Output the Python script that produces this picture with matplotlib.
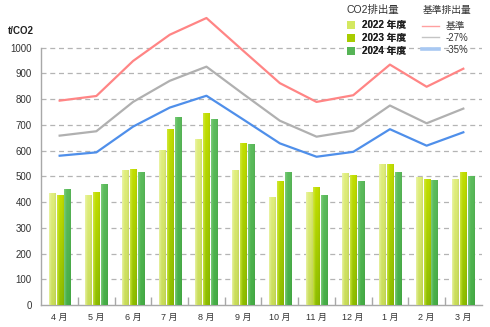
import numpy as np
import matplotlib
matplotlib.use("Agg")
import matplotlib.pyplot as plt
from matplotlib.colors import to_rgb
from matplotlib.lines import Line2D
from matplotlib.patches import Patch

plt.rcParams['font.family'] = ['Liberation Sans', 'Noto Sans CJK JP', 'DejaVu Sans']

months = ['4 月', '5 月', '6 月', '7 月', '8 月', '9 月', '10 月', '11 月', '12 月', '1 月', '2 月', '3 月']

# CO2 emissions (t/CO2) by fiscal year
co2_2022 = [435, 424, 521, 602, 644, 522, 417, 439, 509, 544, 495, 486]
co2_2023 = [426, 438, 525, 680, 745, 626, 478, 457, 505, 544, 487, 513]
co2_2024 = [448, 470, 513, 729, 719, 622, 513, 427, 478, 516, 485, 500]

# reference emission levels
base_ref = [794, 812, 948, 1050, 1115, 988, 862, 789, 815, 934, 848, 918]
ref_m27 = [658, 675, 789, 871, 926, 820, 716, 654, 677, 775, 706, 763]
ref_m35 = [580, 593, 693, 767, 813, 721, 628, 576, 595, 683, 619, 671]

series_title = 'CO2排出量'
series_labels = ['2022 年度', '2023 年度', '2024 年度']
ref_title = '基準排出量'
ref_labels = ['基準', '-27%', '-35%']

bar_series = [co2_2022, co2_2023, co2_2024]
# (top colour, bottom colour, left highlight)
bar_colors = [
    ('#e0ee7c', '#c8dc58', '#eef6b4'),
    ('#c2de00', '#8cbc00', '#d6ea50'),
    ('#5cbc5c', '#46ae46', '#86d086'),
]
legend_colors = ['#d4e860', '#a8cc00', '#56b456']

W, H = 490, 327
fig = plt.figure(figsize=(4.9, 3.27), dpi=100)
ax = fig.add_axes([0.0843, 0.0673, 0.8987, 0.9327])

x = np.arange(len(months))
bar_w = 0.17
offsets = [-0.215, 0.0, 0.215]

def bar_image(top, bottom, hi, n=64, m=16):
    top, bottom, hi = map(np.array, (to_rgb(top), to_rgb(bottom), to_rgb(hi)))
    t = np.linspace(0, 1, n)[:, None, None]
    col = top * (1 - t) + bottom * t
    h = np.linspace(0, 1, m)[None, :, None]
    w = np.clip(1 - h / 0.45, 0, 1) ** 1.2
    img = col * (1 - w * 0.75) + hi * (w * 0.75)
    # slight darkening toward the right edge
    img = img * (1 - 0.06 * np.clip((h - 0.7) / 0.3, 0, 1))
    return np.clip(img, 0, 1)

for vals, off, (ct, cb, ch) in zip(bar_series, offsets, bar_colors):
    img = bar_image(ct, cb, ch)
    for xi, v in zip(x, vals):
        x0 = xi + off - bar_w / 2
        ax.imshow(img, extent=[x0, x0 + bar_w, 0, v], aspect='auto',
                  interpolation='bilinear', zorder=3)

ax.plot(x, base_ref, color='#ff8585', lw=1.6, zorder=4, solid_joinstyle='round')
ax.plot(x, ref_m27, color='#b0b0b0', lw=1.6, zorder=4, solid_joinstyle='round')
ax.plot(x, ref_m35, color='#4f8fea', lw=1.6, zorder=4, solid_joinstyle='round')

ax.set_xlim(-0.5, len(months) - 0.5)
ax.set_ylim(0, 1185)

# dashed horizontal grid
for yv in range(100, 1001, 100):
    ax.plot([-0.5, len(months) - 0.5], [yv, yv], color='#b4b4b4', lw=0.9,
            dashes=(4, 3), zorder=1)

for s in ['top', 'right']:
    ax.spines[s].set_visible(False)
ax.spines['left'].set_color('#a8a8a8')
ax.spines['bottom'].set_color('#a8a8a8')
ax.spines['left'].set_bounds(0, 1000)
ax.spines['left'].set_linewidth(1.0)
ax.spines['bottom'].set_linewidth(1.0)

ax.set_yticks(range(0, 1001, 100))
ax.set_yticklabels([str(v) for v in range(0, 1001, 100)])
ax.tick_params(axis='y', length=0, pad=7, labelsize=7, labelcolor='#333333')

ax.set_xticks(np.arange(0.5, len(months) - 0.5, 1.0))
ax.set_xticklabels([])
ax.tick_params(axis='x', direction='in', length=6, color='#a8a8a8', width=1.0)
for xi, m in zip(x, months):
    ax.text(xi, -47, m, ha='center', va='center', fontsize=6.5, color='#333333')

fig.text(8 / W, 1 - 31 / H, 't/CO2', ha='left', va='center',
         fontsize=7, fontweight='bold', color='#222222')

# legend headings
fig.text(346.5 / W, 1 - 10 / H, series_title, ha='left', va='center',
         fontsize=7.5, color='#333333')
fig.text(423 / W, 1 - 10 / H, ref_title, ha='left', va='center',
         fontsize=7, color='#333333')

# legends
h1 = [Patch(facecolor=c, edgecolor='none') for c in legend_colors]
leg1 = fig.legend(h1, series_labels, loc='upper left',
                  bbox_to_anchor=(345 / W, 1 - 18.5 / H), frameon=False,
                  fontsize=7, handlelength=0.8, handleheight=0.8,
                  handletextpad=0.75, labelspacing=0.3, borderpad=0.2,
                  borderaxespad=0)
for t in leg1.get_texts():
    t.set_fontweight('bold')
    t.set_color('#222222')

h2 = [Line2D([], [], color='#ffa0a0', lw=1.0),
      Line2D([], [], color='#c4c4c4', lw=1.0),
      Line2D([], [], color='#a8c8f2', lw=2.6)]
leg2 = fig.legend(h2, ref_labels, loc='upper left',
                  bbox_to_anchor=(420 / W, 1 - 19 / H), frameon=False,
                  fontsize=7, handlelength=1.75, handletextpad=0.72,
                  labelspacing=0.2, borderpad=0.2, borderaxespad=0)
for t in leg2.get_texts():
    t.set_color('#3a3a3a')
fig.add_artist(leg1)

fig.savefig('out.png', dpi=100)
